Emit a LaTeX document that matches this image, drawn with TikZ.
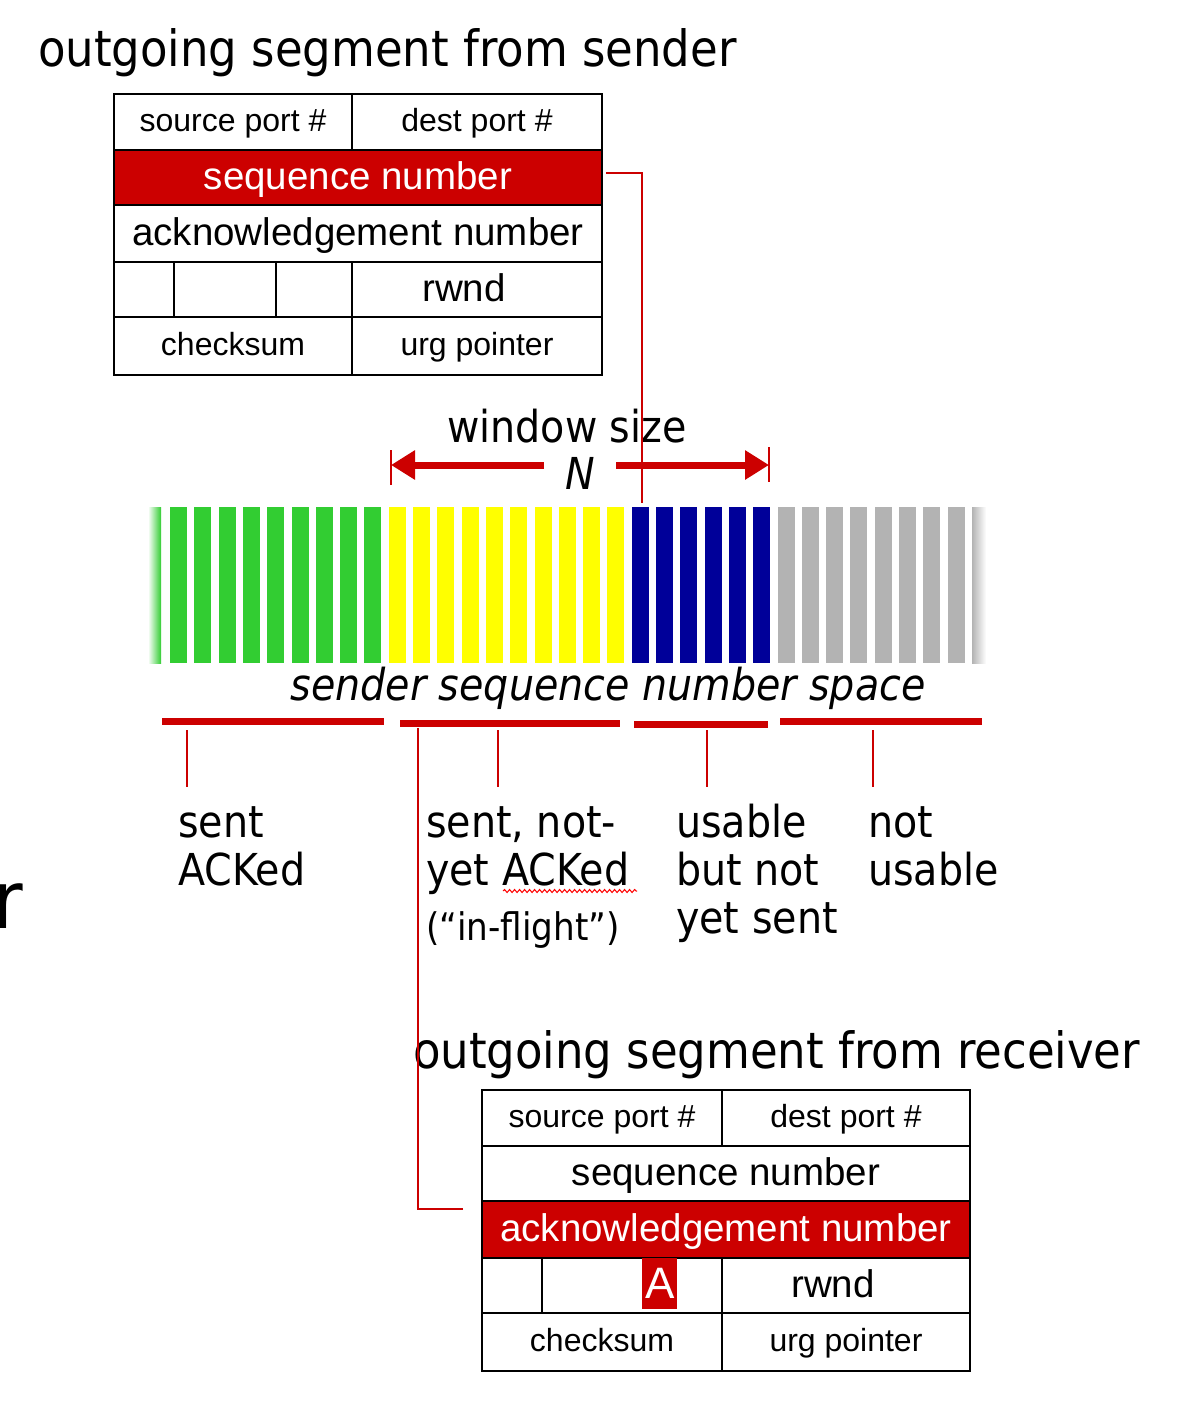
\documentclass[tikz,border=0pt]{standalone}
\usepackage{fontspec}
\setmainfont{Liberation Sans}
\newfontfamily\tahoma{DejaVu Sans Condensed}
\usepackage{tikz}
\usetikzlibrary{arrows.meta}
\usetikzlibrary{decorations.pathmorphing}
\definecolor{segred}{RGB}{204,0,0}
\definecolor{ackedgreen}{RGB}{50,205,50}
\definecolor{flightyellow}{RGB}{255,255,0}
\definecolor{usableblue}{RGB}{0,0,153}
\definecolor{unusedgray}{RGB}{179,179,179}
\tikzset{
    field/.style={draw=black, line width=2pt, anchor=north west, inner sep=0pt,
        text height=24pt, text depth=5pt, font=\fontsize{32}{38}\selectfont},
    bigfield/.style={field, text height=29pt, text depth=6pt, font=\fontsize{38.5}{46}\selectfont},
    hotfield/.style={bigfield, fill=segred, text=white},
    tap/.style={draw=segred, line width=2pt},
    tick/.style={draw=segred, line width=2pt},
    bracket/.style={draw=segred, line width=7pt},
    winarrow/.style={draw=segred, line width=7pt, -{Triangle[length=24pt,width=28pt]}},
    caption/.style={font=\tahoma\fontsize{50}{60}\selectfont, inner sep=0pt},
    lbl/.style={font=\tahoma\fontsize{44}{48}\selectfont, inner sep=0pt, align=left},
    slantlbl/.style={lbl, font=\tahoma\itshape\fontsize{44}{48}\selectfont},
    squiggle/.style={draw=red, line width=1pt, decorate,
        decoration={snake, amplitude=1.5pt, segment length=5pt}},
}

\begin{document}
\begin{tikzpicture}[x=1pt, y=-1pt]
	\useasboundingbox (0,0) rectangle (1186,1402);
	\node[caption, anchor=base west] (sndTitle) at (38,67) {outgoing segment from sender};
	\node[caption, anchor=base west] (rcvTitle) at (413,1068) {outgoing segment from receiver};
	\node[caption, font=\tahoma\fontsize{80}{90}\selectfont, anchor=base west] (cutTitle) at (-7,928) {r};
	\node[field, minimum width=238pt, minimum height=56pt] (sSrc) at (113,93) {source port \#};
	\node[field, minimum width=250pt, minimum height=56pt] (sDst) at (351,93) {dest port \#};
	\node[hotfield, minimum width=488pt, minimum height=55pt] (sSeq) at (113,149) {sequence number};
	\node[bigfield, minimum width=488pt, minimum height=57pt] (sAck) at (113,204) {acknowledgement number};
	\node[field, minimum width=60pt, minimum height=55pt] (sFlagA) at (113,261) {};
	\node[field, minimum width=102pt, minimum height=55pt] (sFlagB) at (173,261) {};
	\node[field, minimum width=76pt, minimum height=55pt] (sFlagC) at (275,261) {};
	\node[bigfield, minimum width=250pt, minimum height=55pt] (sWnd) at (351,261) {rwnd\hspace*{26pt}};
	\node[field, minimum width=238pt, minimum height=58pt] (sChk) at (113,316) {checksum};
	\node[field, minimum width=250pt, minimum height=58pt] (sUrg) at (351,316) {urg pointer};
\begin{scope}[shift={(368,996)}]
	\node[field, minimum width=240pt, minimum height=56pt] (rSrc) at (113,93) {source port \#};
	\node[field, minimum width=248pt, minimum height=56pt] (rDst) at (353,93) {dest port \#};
	\node[bigfield, minimum width=488pt, minimum height=55pt] (rSeq) at (113,149) {sequence number};
	\node[hotfield, minimum width=488pt, minimum height=57pt] (rAck) at (113,204) {acknowledgement number};
	\node[field, minimum width=60pt, minimum height=55pt] (rFlagA) at (113,261) {};
	\node[field, minimum width=180pt, minimum height=55pt] (rFlagB) at (173,261) {};
	\node[anchor=north west, inner sep=0pt, minimum width=35pt, minimum height=51pt, fill=segred,
		text=white, font=\fontsize{44}{50}\selectfont] (rAFlag) at (274,262) {A};
	\node[bigfield, minimum width=248pt, minimum height=55pt] (rWnd) at (353,261) {rwnd\hspace*{26pt}};
	\node[field, minimum width=240pt, minimum height=58pt] (rChk) at (113,316) {checksum};
	\node[field, minimum width=248pt, minimum height=58pt] (rUrg) at (353,316) {urg pointer};
\end{scope}
	% sequence number space
	\foreach \i in {0,...,8} \fill[ackedgreen] (170+24.3*\i,507) rectangle ++(17,156);
	\foreach \i in {9,...,18} \fill[flightyellow] (170+24.3*\i,507) rectangle ++(17,156);
	\foreach \i in {19,...,24} \fill[usableblue] (170+24.3*\i,507) rectangle ++(17,156);
	\foreach \i in {25,...,32} \fill[unusedgray] (170+24.3*\i,507) rectangle ++(17,156);
	\shade[left color=white, right color=ackedgreen] (148,507) rectangle (161,663);
	\shade[left color=unusedgray, right color=white] (972,507) rectangle (986,663);
	\node[lbl, anchor=base] (winLbl) at (567,442) {window size};
	\node[slantlbl, anchor=base, inner xsep=21pt] (winN) at (580,489) {N};
	\coordinate (winL) at (391,465);
	\coordinate (winR) at (769,465);
	\draw[winarrow] (winN.west |- winL) -- (winL);
	\draw[winarrow] (winN.east |- winR) -- (winR);
	\draw[tick] ([yshift=15pt]winL) -- ([yshift=-20pt]winL);
	\draw[tick] ([yshift=18pt]winR) -- ([yshift=-17pt]winR);
	\node[slantlbl, anchor=base] (spaceLbl) at (608,700) {sender sequence number space};
	\coordinate (ackedL) at (162,721);
	\coordinate (ackedR) at (384,721);
	\coordinate (flightL) at (400,723);
	\coordinate (flightR) at (620,723);
	\coordinate (usableL) at (634,724);
	\coordinate (usableR) at (768,724);
	\coordinate (unusedL) at (780,721);
	\coordinate (unusedR) at (982,721);
	\draw[bracket] (ackedL) -- (ackedR);
	\draw[bracket] (flightL) -- (flightR);
	\draw[bracket] (usableL) -- (usableR);
	\draw[bracket] (unusedL) -- (unusedR);
	\node[lbl, anchor=base west] (ackedLbl) at (178,885) {sent\\ACKed};
	\node[lbl, anchor=base west] (flightLbl) at (426,940) {sent, not-\\yet ACKed\\[7pt]{\fontsize{38}{48}\selectfont (“in-flight”)}};
	\node[lbl, anchor=base west] (usableLbl) at (676,933) {usable\\but not\\yet sent};
	\node[lbl, anchor=base west] (unusedLbl) at (868,885) {not\\usable};
	\coordinate (ackedTick) at (187,730);
	\coordinate (flightTick) at (498,730);
	\coordinate (usableTick) at (707,730);
	\coordinate (unusedTick) at (873,730);
	\draw[tick] (ackedTick) -- ++(0,57);
	\draw[tick] (flightTick) -- ++(0,57);
	\draw[tick] (usableTick) -- ++(0,57);
	\draw[tick] (unusedTick) -- ++(0,57);
	\draw[squiggle] (503,891) -- (637,891);
	% header fields to number space
	\coordinate (seqTap) at (642,503);
	\coordinate (ackTap) at (418,728);
	\draw[tap] ([xshift=3pt,yshift=5pt]sSeq.east) -| (seqTap);
	\draw[tap] ([xshift=-18pt,yshift=21pt]rAck.west) -| (ackTap);
\end{tikzpicture}
\end{document}
